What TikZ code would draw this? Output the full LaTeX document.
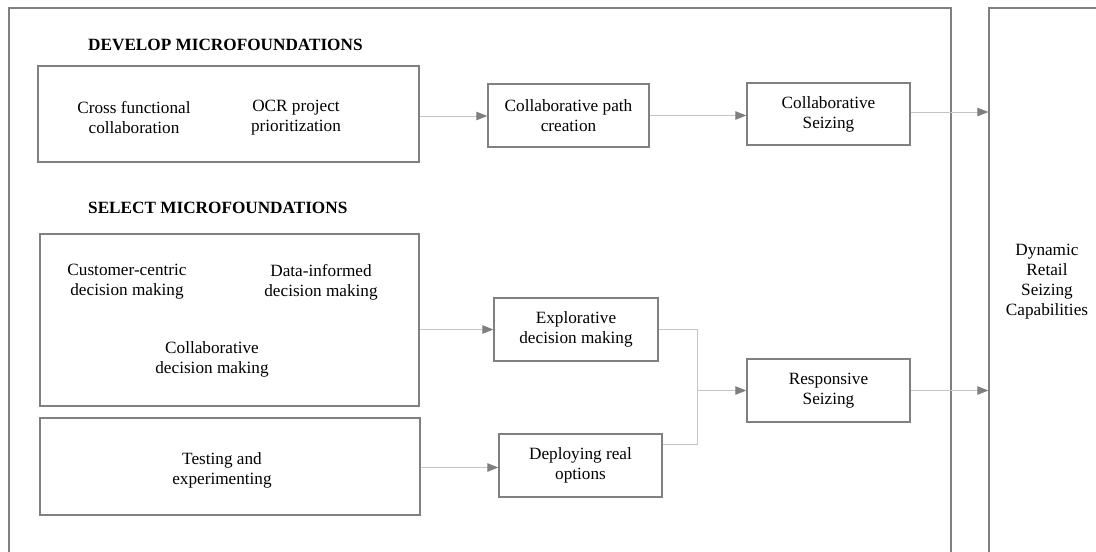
\documentclass[tikz,border=0pt]{standalone}
\usepackage{fontspec}
\setmainfont{Liberation Serif}
\usetikzlibrary{arrows.meta,calc}
\definecolor{edgegray}{HTML}{808080}
\definecolor{linkgray}{HTML}{C4C4C4}
\definecolor{tipgray}{HTML}{7F7F7F}
\begin{document}
\begin{tikzpicture}[x=1pt,y=-1pt,
  font=\fontsize{17.2}{20}\selectfont,
  box/.style={draw=edgegray,line width=1.4pt,inner sep=0pt,align=center},
  label/.style={align=center,inner sep=0pt},
  heading/.style={font=\fontsize{17.2}{20}\selectfont\bfseries,anchor=west,inner sep=0pt},
  link/.style={draw=linkgray,line width=0.9pt},
  arrow/.style={link,-{Triangle[length=11pt,width=8.5pt,color=tipgray]}}]

\fill[white] (0,0) rectangle (1096,552);
\useasboundingbox (0,0) rectangle (1096,552);

% open frames running off the page
\node[box,minimum width=942pt,minimum height=570pt] (frame) at (480,293) {};
\node[box,minimum width=116pt,minimum height=548pt] (dyn) at (1047,282)
  {Dynamic\\Retail\\Seizing\\Capabilities};

% develop block
\node[heading] (hdev) at (88,45) {DEVELOP MICROFOUNDATIONS};
\node[box,minimum width=381pt,minimum height=96pt] (dev) at (228.5,114) {};
\node[label] (cfc) at (134,117.5) {Cross functional\\collaboration};
\node[label] (ocr) at (296,117.5) {OCR project\\prioritization};

\node[box,minimum width=161pt,minimum height=63pt] (cpath) at (568.5,115.5)
  {Collaborative path\\creation};
\node[box,minimum width=163pt,minimum height=62pt] (scz) at (828.5,114)
  {Collaborative\\Seizing};

% select block
\node[heading] (hsel) at (88,208) {SELECT MICROFOUNDATIONS};
\node[box,minimum width=379pt,minimum height=172pt] (sel) at (229.5,320) {};
\node[label] (ccd) at (127,281.5) {Customer-centric\\decision making};
\node[label] (did) at (321,282.5) {Data-informed\\decision making};
\node[label] (cdm) at (212,359.5) {Collaborative\\decision making};

\node[box,minimum width=380pt,minimum height=97pt] (test) at (230,466.5) {};
\node[label] (tae) at (222,470.5) {Testing and\\experimenting};

\node[box,minimum width=164pt,minimum height=63pt] (expl) at (576,329.5)
  {Explorative\\decision making};
\node[box,minimum width=163pt,minimum height=63pt] (depl) at (580.5,465.5)
  {Deploying real\\options};
\node[box,minimum width=163pt,minimum height=63pt] (resp) at (828.5,390.5)
  {Responsive\\Seizing};

% connectors
\draw[arrow] ([yshift=-2pt]dev.east) -- ([yshift=-2pt]dev.east -| cpath.west);
\draw[arrow] (cpath.east) -- (cpath.east -| scz.west);
\draw[arrow] ([yshift=2pt]scz.east) -- ([yshift=2pt]scz.east -| dyn.west);

\draw[arrow] (sel.east |- expl.west) -- (expl.west);
\draw[arrow] ([yshift=-2pt]test.east |- depl.west) -- ([yshift=-2pt]depl.west);

\path (resp.west) ++(-49,0) coordinate (jn);
\draw[link] (expl.east) -| (jn);
\draw[link] ([yshift=21.5pt]depl.east) -| (jn);
\draw[arrow] (jn) -- (resp.west);
\draw[arrow] (resp.east) -- (resp.east -| dyn.west);
\end{tikzpicture}
\end{document}
